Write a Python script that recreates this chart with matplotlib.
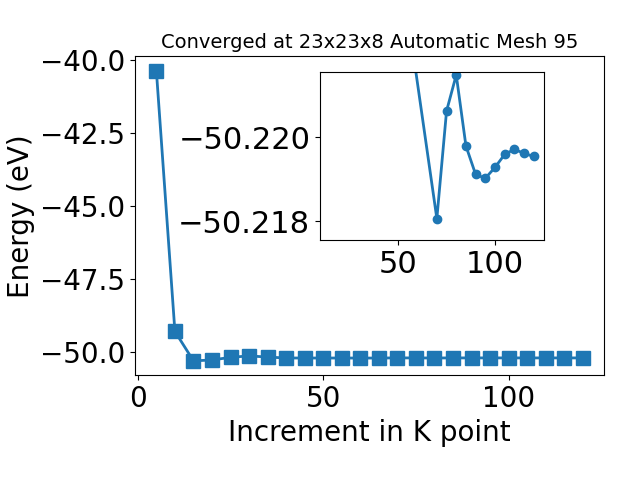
import matplotlib
matplotlib.use("Agg")
import matplotlib.pyplot as plt

# k-point increment and total energy (eV)
kpoints = [5, 10, 15, 20, 25, 30, 35, 40, 45, 50, 55, 60, 65,
           70, 75, 80, 85, 90, 95, 100, 105, 110, 115, 120]
energy = [-40.37, -49.31, -50.32, -50.29, -50.20, -50.15, -50.19,
          -50.222, -50.223, -50.223, -50.223, -50.224, -50.224,
          -50.21806, -50.22062, -50.22148, -50.21979, -50.21911,
          -50.21902, -50.21928, -50.21959, -50.21971, -50.21961, -50.21954]

# zoomed-in view of the tail
inset_k = [55, 70, 75, 80, 85, 90, 95, 100, 105, 110, 115, 120]
inset_e = [-50.2229, -50.21806, -50.22062, -50.22148, -50.21979, -50.21911,
           -50.21902, -50.21928, -50.21959, -50.21971, -50.21961, -50.21954]

fig = plt.figure(figsize=(6.4, 4.8), dpi=100)
ax = fig.add_axes([0.211, 0.218, 0.733, 0.665])
ax.plot(kpoints, energy, marker="s", markersize=10, linewidth=2, color="#1f77b4")
ax.set_xlabel("Increment in K point", fontsize=20)
ax.set_ylabel("Energy (eV)", fontsize=20)
ax.set_title("Converged at 23x23x8 Automatic Mesh 95", fontsize=14)
ax.tick_params(labelsize=20)

ins = fig.add_axes([0.5, 0.5, 0.35, 0.35])
ins.plot(inset_k, inset_e, marker="o", markersize=6, linewidth=2, color="#1f77b4")
ins.set_xlim(9.75, 125.25)
ins.set_ylim(-50.21755, -50.22155)
ins.set_yticks([-50.220, -50.218])
ins.set_xticks([50, 100])
ins.ticklabel_format(axis="y", useOffset=False)
ins.tick_params(labelsize=22)

fig.savefig("out.png", dpi=100)
